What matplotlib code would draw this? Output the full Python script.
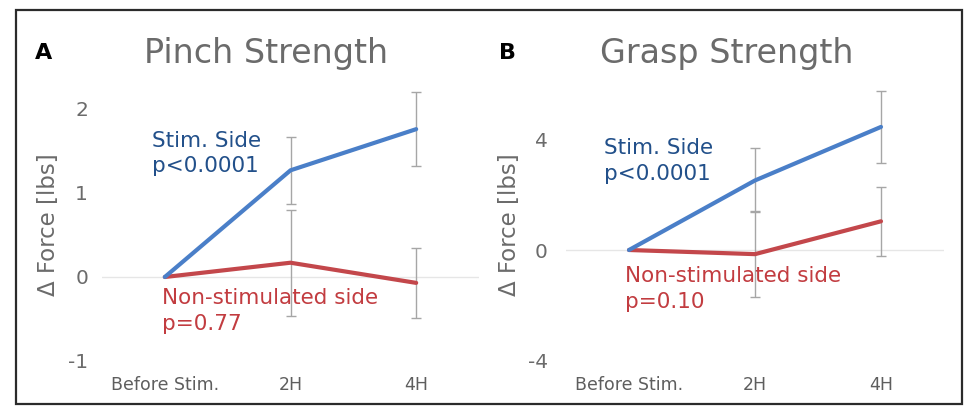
import matplotlib
matplotlib.use("Agg")
import matplotlib.pyplot as plt
from matplotlib.patches import Rectangle

# Time points
timepoints = ["Before Stim.", "2H", "4H"]

# Pinch strength change (lbs)
pinch_stim = [0.0, 1.27, 1.76]
pinch_stim_err = [0.0, 0.40, 0.44]
pinch_non = [0.0, 0.17, -0.07]
pinch_non_err = [0.0, 0.63, 0.42]

# Grasp strength change (lbs)
grasp_stim = [0.0, 2.52, 4.46]
grasp_stim_err = [0.0, 1.16, 1.29]
grasp_non = [0.0, -0.15, 1.04]
grasp_non_err = [0.0, 1.55, 1.25]

pinch_ticks = [-1, 0, 1, 2]
grasp_ticks = [-4, 0, 4]

BLUE = "#4a7fc8"
RED = "#c3474b"
BLUE_TXT = "#22508a"
RED_TXT = "#c23c40"
GRAY_TXT = "#6b6b6b"
ERR = "#a6a6a6"

W, H = 969, 408
fig = plt.figure(figsize=(W / 100, H / 100), dpi=100)
plt.rcParams["font.family"] = ["DejaVu Sans"]


def box(x0, x1, y_top, y_bot):
    return [x0 / W, 1 - y_bot / H, (x1 - x0) / W, (y_bot - y_top) / H]


def panel(ax, stim, stim_err, non, non_err, ticks, ylim, stim_txt, non_txt,
          stim_pos, non_pos, pad):
    x = list(range(len(timepoints)))
    ax.axhline(0, color="#e6e6e6", lw=1.0, zorder=0)
    ax.errorbar(x[1:], non[1:], yerr=non_err[1:], fmt="none", ecolor=ERR,
                elinewidth=1.0, capsize=3.5, capthick=1.0, zorder=1)
    ax.errorbar(x[1:], stim[1:], yerr=stim_err[1:], fmt="none", ecolor=ERR,
                elinewidth=1.0, capsize=3.5, capthick=1.0, zorder=1)
    ax.plot(x, non, color=RED, lw=3.0, solid_capstyle="round", zorder=2)
    ax.plot(x, stim, color=BLUE, lw=3.0, solid_capstyle="round", zorder=3)
    ax.set_xlim(-0.5, 2.5)
    ax.set_ylim(*ylim)
    ax.set_yticks(ticks)
    ax.set_yticklabels([str(t) for t in ticks], fontsize=14.5, color=GRAY_TXT)
    ax.set_xticks(x)
    ax.set_xticklabels(timepoints, fontsize=12.5, color="#5e5e5e",
                       family=["Liberation Sans Narrow", "DejaVu Sans"])
    ax.tick_params(axis="y", length=0, pad=pad)
    ax.tick_params(axis="x", length=0, pad=4)
    for s in ax.spines.values():
        s.set_visible(False)
    ax.set_facecolor("none")
    ax.text(stim_pos[0], stim_pos[1], stim_txt, color=BLUE_TXT, fontsize=15.5,
            va="top", ha="left", linespacing=1.35)
    ax.text(non_pos[0], non_pos[1], non_txt, color=RED_TXT, fontsize=15.5,
            va="top", ha="left", linespacing=1.35)


ax1 = fig.add_axes(box(102, 479, 80, 370))
panel(ax1, pinch_stim, pinch_stim_err, pinch_non, pinch_non_err, pinch_ticks,
      (-(370 - 277) / 84, (277 - 80) / 84),
      "Stim. Side\np<0.0001", "Non-stimulated side\np=0.77",
      (-0.1, 1.74), (-0.02, -0.13), 10)
ax1.set_ylabel("Δ Force [lbs]", fontsize=16.5, color=GRAY_TXT, labelpad=6)

ax2 = fig.add_axes(box(566, 944, 80, 370))
panel(ax2, grasp_stim, grasp_stim_err, grasp_non, grasp_non_err, grasp_ticks,
      (-(370 - 250) / 27.6, (250 - 80) / 27.6),
      "Stim. Side\np<0.0001", "Non-stimulated side\np=0.10",
      (-0.2, 4.05), (-0.03, -0.58), 13)
ax2.set_ylabel("Δ Force [lbs]", fontsize=16.5, color=GRAY_TXT, labelpad=5)

fig.text(266 / W, 1 - 53 / H, "Pinch Strength", fontsize=24, color=GRAY_TXT,
         ha="center", va="center")
fig.text(727 / W, 1 - 53 / H, "Grasp Strength", fontsize=24, color=GRAY_TXT,
         ha="center", va="center")
fig.text(44 / W, 1 - 53 / H, "A", fontsize=16, fontweight="bold", color="black",
         ha="center", va="center")
fig.text(507 / W, 1 - 53 / H, "B", fontsize=16, fontweight="bold", color="black",
         ha="center", va="center")

fig.patches.append(Rectangle((16 / W, 1 - 404 / H), (962 - 16) / W, (404 - 10) / H,
                             transform=fig.transFigure, fill=False,
                             edgecolor="#2b2b2b", lw=1.6))

fig.savefig("out.png", dpi=100, facecolor="white")
